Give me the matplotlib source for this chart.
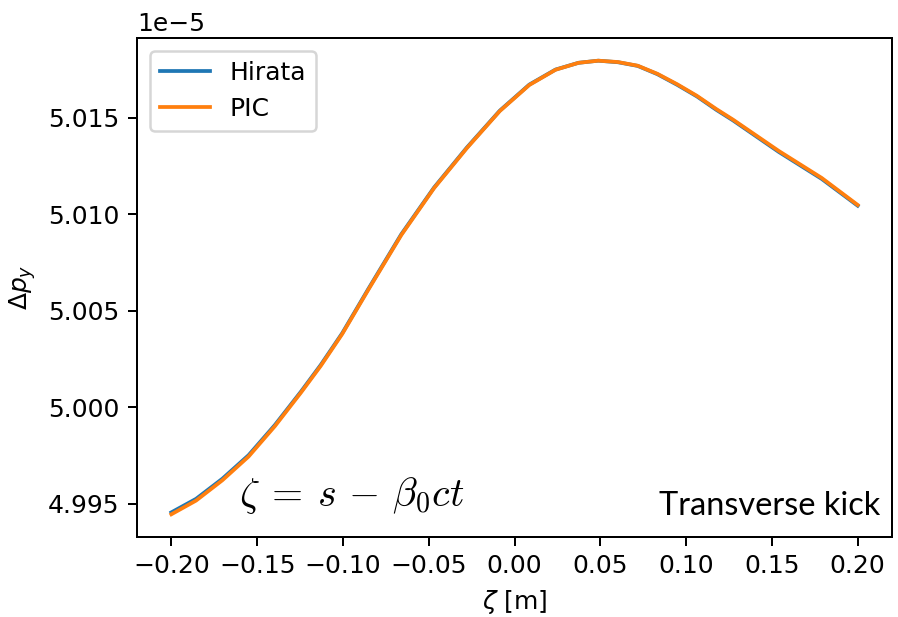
import matplotlib
matplotlib.use("Agg")
import matplotlib.pyplot as plt
import numpy as np

# longitudinal position along the bunch [m]
zeta = [-0.2000, -0.1856, -0.1703, -0.1550, -0.1397, -0.1244, -0.1129,
        -0.1004, -0.0852, -0.0660, -0.0469, -0.0278, -0.0086, 0.0086,
        0.0239, 0.0373, 0.0488, 0.0603, 0.0718, 0.0833, 0.0948, 0.1063,
        0.1177, 0.1273, 0.1541, 0.1790, 0.2000]

# vertical kick (in units of 1e-5)
kick_hirata = [4.99456, 4.99526, 4.99630, 4.99752, 4.99908, 5.00082, 5.00220,
               5.00384, 5.00613, 5.00896, 5.01138, 5.01345, 5.01536, 5.01671,
               5.01749, 5.01784, 5.01795, 5.01787, 5.01768, 5.01725, 5.01670,
               5.01610, 5.01540, 5.01486, 5.01322, 5.01183, 5.01044]
kick_pic = [4.99446, 4.99517, 4.99622, 4.99745, 4.99902, 5.00077, 5.00215,
            5.00380, 5.00609, 5.00892, 5.01135, 5.01342, 5.01534, 5.01669,
            5.01748, 5.01784, 5.01795, 5.01788, 5.01769, 5.01727, 5.01673,
            5.01613, 5.01544, 5.01490, 5.01327, 5.01188, 5.01048]

fig = plt.figure(figsize=(898 / 180, 617 / 180), dpi=180)
ax = fig.add_axes([0.1526, 0.1297, 0.8407, 0.8087])

ax.plot(zeta, np.array(kick_hirata) * 1e-5, color="#1f77b4", lw=1.5, label="Hirata")
ax.plot(zeta, np.array(kick_pic) * 1e-5, color="#ff7f0e", lw=1.5, label="PIC")

ax.set_xticks([-0.20, -0.15, -0.10, -0.05, 0.00, 0.05, 0.10, 0.15, 0.20])
ax.set_xlabel(r"$\zeta$ [m]")
ax.set_ylabel(r"$\Delta p_y$")
ax.legend(loc="upper left")

ax.text(0.135, 0.062, r"$\zeta \:=\: s \,-\, \beta_0 c t$", transform=ax.transAxes,
        fontsize=16, math_fontfamily="cm", ha="left", va="baseline")
ax.text(0.985, 0.045, "Transverse kick", transform=ax.transAxes,
        fontsize=13, family="Lato", ha="right", va="baseline")

fig.savefig("out.png", dpi=180)
